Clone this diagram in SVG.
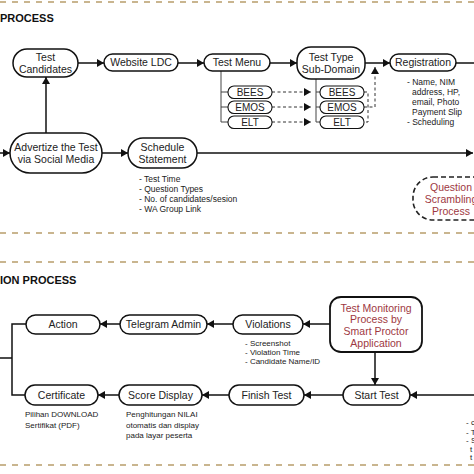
<svg xmlns="http://www.w3.org/2000/svg" width="474" height="474" viewBox="0 0 474 474">
<style>
.frame{stroke:#c9b58f;stroke-width:2;stroke-dasharray:6 6;fill:none}
.title{font-family:"Liberation Sans",Arial,sans-serif;font-weight:bold;font-size:11px;fill:#111}
.node rect{fill:#fff;stroke:#111;stroke-width:1.5}
.nt{font-family:"Liberation Sans",Arial,sans-serif;font-size:10.5px;fill:#222;text-anchor:middle}
.st{font-size:10px}
.red{fill:#9e3842}
.bl{font-family:"Liberation Sans",Arial,sans-serif;font-size:8.5px;fill:#222}
.sm{font-family:"Liberation Sans",Arial,sans-serif;font-size:8px;fill:#222}
.ln{stroke:#111;stroke-width:1.5;fill:none}
.thin{stroke:#444;stroke-width:1;fill:none}
.dash{stroke:#333;stroke-width:1;stroke-dasharray:3 2.5;fill:none}
</style>
<defs>
<marker id="ah" markerUnits="userSpaceOnUse" markerWidth="8" markerHeight="8" refX="7" refY="4" orient="auto">
<path d="M0,0 L7,4 L0,8 z" fill="#111"/>
</marker>
</defs>
<g id="frames">
<line class="frame" x1="0" y1="2" x2="474" y2="2"/>
<line class="frame" x1="0" y1="233" x2="474" y2="233"/>
<line class="frame" x1="0" y1="262" x2="474" y2="262"/>
<line class="frame" x1="0" y1="465" x2="474" y2="465"/>
</g>
<text class="title" x="0" y="22">PROCESS</text>
<text class="title" x="0" y="284">ION PROCESS</text>
<g id="connectors">
<path class="ln" d="M78,63 H104" marker-end="url(#ah)"/>
<path class="ln" d="M178,63 H204" marker-end="url(#ah)"/>
<path class="ln" d="M270,63 H297" marker-end="url(#ah)"/>
<path class="ln" d="M365,63 H390" marker-end="url(#ah)"/>
<path class="ln" d="M456,63 H474"/>
<path class="ln" d="M46,133 V77" marker-end="url(#ah)"/>
<path class="ln" d="M0,153 H10" marker-end="url(#ah)"/>
<path class="ln" d="M102,153 H128" marker-end="url(#ah)"/>
<path class="ln" d="M197,153 H473" marker-end="url(#ah)"/>
<path class="thin" d="M221,71 V122 H228 M221,107 H228 M221,92 H228"/>
<path class="thin" d="M316,79 V122 H320 M316,107 H320 M316,92 H320"/>
<path class="dash" d="M272,92 H311" marker-end="url(#ah)"/>
<path class="dash" d="M272,107 H311" marker-end="url(#ah)"/>
<path class="dash" d="M272,122 H311" marker-end="url(#ah)"/>
<path class="dash" d="M364,92 H368 V122 H364 M364,107 H375 V67" marker-end="url(#ah)"/>
<path class="ln" d="M330,324 H303" marker-end="url(#ah)"/>
<path class="ln" d="M233,324 H207" marker-end="url(#ah)"/>
<path class="ln" d="M120,324 H100" marker-end="url(#ah)"/>
<path class="ln" d="M26,324 H12 V395 H25 M0,358 H12"/>
<path class="ln" d="M375,352 V385" marker-end="url(#ah)"/>
<path class="ln" d="M474,395 H410" marker-end="url(#ah)"/>
<path class="ln" d="M343,395 H304" marker-end="url(#ah)"/>
<path class="ln" d="M229,395 H202" marker-end="url(#ah)"/>
<path class="ln" d="M119,395 H98" marker-end="url(#ah)"/>
</g>
<g id="test-candidates" class="node"><rect x="13" y="49" width="65" height="28" rx="14"/><text class="nt" x="45.5" y="61.2">Test</text><text class="nt" x="45.5" y="72.7">Candidates</text></g>
<g id="website-ldc" class="node"><rect x="104" y="54" width="74" height="17" rx="8.5"/><text class="nt" x="141" y="66.3">Website LDC</text></g>
<g id="test-menu" class="node"><rect x="204" y="54" width="66" height="17" rx="8.5"/><text class="nt" x="237" y="66.3">Test Menu</text></g>
<g id="test-type" class="node"><rect x="297" y="47" width="68" height="32" rx="14"/><text class="nt" x="331" y="60.7">Test Type</text><text class="nt" x="331" y="72.7">Sub-Domain</text></g>
<g id="registration" class="node"><rect x="390" y="54" width="66" height="17" rx="8.5"/><text class="nt" x="423" y="66.3">Registration</text></g>
<g id="bees1" class="node"><rect x="228" y="86" width="44" height="12.5" rx="6" style="stroke-width:1.1"/><text class="nt st" x="250" y="95.7">BEES</text></g>
<g id="emos1" class="node"><rect x="228" y="101" width="44" height="12.5" rx="6" style="stroke-width:1.1"/><text class="nt st" x="250" y="110.7">EMOS</text></g>
<g id="elt1" class="node"><rect x="228" y="116" width="44" height="12.5" rx="6" style="stroke-width:1.1"/><text class="nt st" x="250" y="125.7">ELT</text></g>
<g id="bees2" class="node"><rect x="320" y="86" width="44" height="12.5" rx="6" style="stroke-width:1.1"/><text class="nt st" x="342" y="95.7">BEES</text></g>
<g id="emos2" class="node"><rect x="320" y="101" width="44" height="12.5" rx="6" style="stroke-width:1.1"/><text class="nt st" x="342" y="110.7">EMOS</text></g>
<g id="elt2" class="node"><rect x="320" y="116" width="44" height="12.5" rx="6" style="stroke-width:1.1"/><text class="nt st" x="342" y="125.7">ELT</text></g>
<g id="registration-notes">
<text class="bl" x="407" y="85">- Name, NIM</text>
<text class="bl" x="412" y="95">address, HP,</text>
<text class="bl" x="412" y="105">email, Photo</text>
<text class="bl" x="412" y="115">Payment Slip</text>
<text class="bl" x="407" y="125">- Scheduling</text>
</g>
<g id="advertize" class="node"><rect x="10" y="133" width="92" height="40" rx="20"/><text class="nt" x="56" y="150.7">Advertize the Test</text><text class="nt" x="56" y="162.7">via Social Media</text></g>
<g id="schedule" class="node"><rect x="128" y="138" width="69" height="30" rx="15"/><text class="nt" x="162.5" y="150.7">Schedule</text><text class="nt" x="162.5" y="162.7">Statement</text></g>
<g id="schedule-notes">
<text class="bl" x="139" y="182">- Test Time</text>
<text class="bl" x="139" y="192">- Question Types</text>
<text class="bl" x="139" y="202">- No. of candidates/sesion</text>
<text class="bl" x="139" y="212">- WA Group Link</text>
</g>
<g id="question-scrambling"><rect x="413" y="177" width="80" height="43" rx="20" fill="#fff" stroke="#222" stroke-width="1.6" stroke-dasharray="5 3"/><text class="nt red" x="451" y="190.7">Question</text><text class="nt red" x="451" y="202.7">Scrambling</text><text class="nt red" x="451" y="214.7">Process</text></g>
<g id="action" class="node"><rect x="26" y="315" width="74" height="19" rx="9.5"/><text class="nt" x="63" y="328.2">Action</text></g>
<g id="telegram" class="node"><rect x="120" y="315" width="87" height="19" rx="9.5"/><text class="nt" x="163.5" y="328.2">Telegram Admin</text></g>
<g id="violations" class="node"><rect x="233" y="315" width="70" height="19" rx="9.5"/><text class="nt" x="268" y="328.2">Violations</text></g>
<g id="violation-notes">
<text class="sm" x="245" y="346">- Screenshot</text>
<text class="sm" x="245" y="355">- Violation Time</text>
<text class="sm" x="245" y="364">- Candidate Name/ID</text>
</g>
<g id="test-monitoring" class="node"><rect x="330" y="297" width="92" height="55" rx="11" style="stroke-width:1.8"/><text class="nt red" x="376" y="311.5">Test Monitoring</text><text class="nt red" x="376" y="323.2">Process by</text><text class="nt red" x="376" y="334.9">Smart Proctor</text><text class="nt red" x="376" y="346.6">Application</text></g>
<g id="certificate" class="node"><rect x="25" y="385" width="73" height="20" rx="10"/><text class="nt" x="61.5" y="398.7">Certificate</text></g>
<g id="score-display" class="node"><rect x="119" y="385" width="83" height="20" rx="10"/><text class="nt" x="160.5" y="398.7">Score Display</text></g>
<g id="finish-test" class="node"><rect x="229" y="385" width="75" height="20" rx="10"/><text class="nt" x="266.5" y="398.7">Finish Test</text></g>
<g id="start-test" class="node"><rect x="343" y="385" width="67" height="20" rx="10"/><text class="nt" x="376.5" y="398.7">Start Test</text></g>
<g id="certificate-notes">
<text class="sm" x="25" y="417">Pilihan DOWNLOAD</text>
<text class="sm" x="25" y="428">Sertifikat (PDF)</text>
</g>
<g id="score-notes">
<text class="sm" x="126" y="417">Penghitungan NILAI</text>
<text class="sm" x="126" y="428">otomatis dan display</text>
<text class="sm" x="126" y="438">pada layar peserta</text>
</g>
<g id="right-notes">
<text class="sm" x="466" y="425">- c</text>
<text class="sm" x="466" y="434.5">- T</text>
<text class="sm" x="466" y="443">- S</text>
<text class="sm" x="470" y="451.5">t</text>
<text class="sm" x="470" y="460">t</text>
</g>
</svg>
